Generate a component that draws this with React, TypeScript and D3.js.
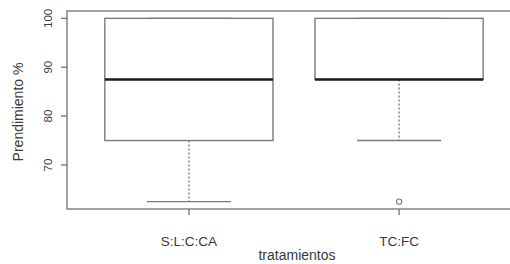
import React from 'react'
import * as d3 from 'd3'

// boxplot stats
const categories = ['S:L:C:CA', 'TC:FC']
const lowerWhisker = [62.5, 75]
const lowerHinge = [75, 87.5]
const medians = [87.5, 87.5]
const upperHinge = [100, 100]
const upperWhisker = [100, 100]
const outliers = [[], [62.5]]
const yTicks = [70, 80, 90, 100]

export default function App() {
  const width = 510
  const height = 264

  // R style: groups at 1..n, xlim 0.5..n+0.5 expanded 4%
  const x = d3.scaleLinear().domain([0.42, 2.58]).range([67, 521])
  const y = d3.scaleLinear().domain([61, 101.5]).range([209, 11])
  const boxW = x(1.8) - x(1)
  const capW = boxW / 2

  const lineCol = '#7a7a7a'
  const textCol = '#3a3a3a'
  const font = 'Liberation Sans, Arial, sans-serif'

  return (
    <svg width={width} height={height} style={{ position: 'absolute', left: 0, top: 0 }}>
      <rect x={0} y={0} width={width} height={height} fill="#fff" />
      {/* plot frame */}
      <rect x={x(0.42)} y={y(101.5)} width={x(2.58) - x(0.42)} height={y(61) - y(101.5)}
        fill="none" stroke={lineCol} strokeWidth={1.4} />

      {categories.map((c, i) => {
        const cx = x(i + 1)
        return (
          <g key={c}>
            {/* whiskers */}
            <line x1={cx} x2={cx} y1={y(lowerHinge[i])} y2={y(lowerWhisker[i])}
              stroke={lineCol} strokeWidth={1.4} strokeDasharray="2,2" />
            <line x1={cx} x2={cx} y1={y(upperHinge[i])} y2={y(upperWhisker[i])}
              stroke={lineCol} strokeWidth={1.4} strokeDasharray="2,2" />
            <line x1={cx - capW / 2} x2={cx + capW / 2} y1={y(lowerWhisker[i])} y2={y(lowerWhisker[i])}
              stroke={lineCol} strokeWidth={1.4} />
            <line x1={cx - capW / 2} x2={cx + capW / 2} y1={y(upperWhisker[i])} y2={y(upperWhisker[i])}
              stroke={lineCol} strokeWidth={1.4} />
            {/* box */}
            <rect x={cx - boxW / 2} y={y(upperHinge[i])} width={boxW}
              height={y(lowerHinge[i]) - y(upperHinge[i])}
              fill="#fff" stroke={lineCol} strokeWidth={1.4} />
            <line x1={cx - boxW / 2} x2={cx + boxW / 2} y1={y(medians[i])} y2={y(medians[i])}
              stroke="#1a1a1a" strokeWidth={2.6} />
            {outliers[i].map((o, j) => (
              <circle key={j} cx={cx} cy={y(o)} r={2.6} fill="none" stroke={lineCol} strokeWidth={1.1} />
            ))}
            {/* x axis tick + label */}
            <line x1={cx} x2={cx} y1={y(61)} y2={y(61) + 6} stroke={lineCol} strokeWidth={1.4} />
            <text x={cx} y={246} textAnchor="middle" fontFamily={font} fontSize={13.5} fill={textCol}>{c}</text>
          </g>
        )
      })}

      {/* y axis ticks */}
      {yTicks.map(t => (
        <g key={t}>
          <line x1={61} x2={67} y1={y(t)} y2={y(t)} stroke={lineCol} strokeWidth={1.4} />
          <text transform={`translate(52,${y(t)}) rotate(-90)`} textAnchor="middle"
            fontFamily={font} fontSize={11.5} fill={textCol}>{t}</text>
        </g>
      ))}

      <text transform={`translate(23,112) rotate(-90)`} textAnchor="middle"
        fontFamily={font} fontSize={14} fill={textCol}>Prendimiento %</text>
      <text x={297} y={260} textAnchor="middle" fontFamily={font} fontSize={14} fill={textCol}>tratamientos</text>
    </svg>
  )
}
